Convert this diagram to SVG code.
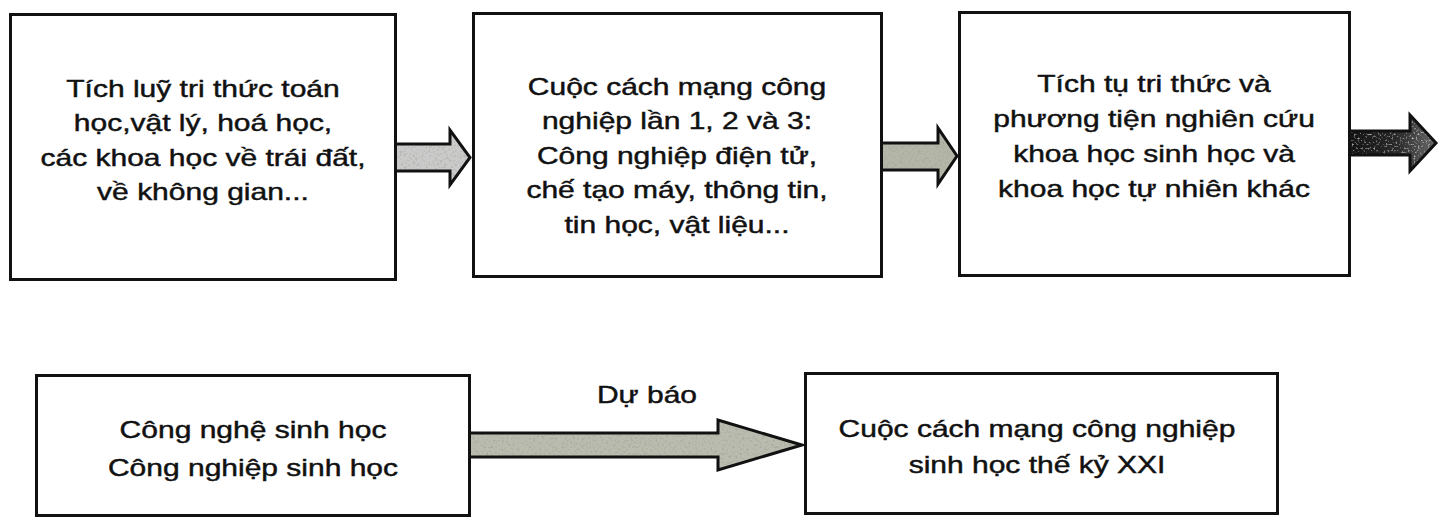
<svg xmlns="http://www.w3.org/2000/svg" width="1442" height="519" viewBox="0 0 1442 519">
  <style>
    .box { fill: #ffffff; stroke: #111111; stroke-width: 3; }
    .lbl { font-family: "Liberation Sans", Arial, sans-serif; font-size: 24px; fill: #111111; stroke: #111111; stroke-width: 0.45; text-anchor: middle; }
    .arrow-outline { fill: none; stroke: #111111; stroke-width: 3; stroke-linejoin: miter; }
  </style>
  <defs>
    <!-- dark grain laid over the light block arrows -->
    <filter id="grainDark" x="0" y="0" width="100%" height="100%">
      <feTurbulence type="fractalNoise" baseFrequency="0.45" numOctaves="2" seed="7" result="noise"/>
      <feColorMatrix in="noise" type="matrix" values="0 0 0 0 0.35  0 0 0 0 0.36  0 0 0 0 0.3  4 0 0 0 -2.1" result="specks"/>
      <feComposite in="specks" in2="SourceGraphic" operator="in"/>
    </filter>
    <!-- light grain laid over the dark block arrow -->
    <filter id="grainLight" x="0" y="0" width="100%" height="100%">
      <feTurbulence type="fractalNoise" baseFrequency="0.5" numOctaves="2" seed="3" result="noise"/>
      <feColorMatrix in="noise" type="matrix" values="0 0 0 0 0.8  0 0 0 0 0.8  0 0 0 0 0.78  4 0 0 0 -2.2" result="specks"/>
      <feComposite in="specks" in2="SourceGraphic" operator="in"/>
    </filter>
    <linearGradient id="darkFill" x1="0" y1="0" x2="1" y2="0">
      <stop offset="0" stop-color="#141414"/>
      <stop offset="0.55" stop-color="#2a2a2a"/>
      <stop offset="1" stop-color="#6a6a6a"/>
    </linearGradient>
  </defs>

  <!-- block arrows between the boxes -->
  <g id="connectors">
    <g id="arrow-1-2">
      <polygon points="396,144 450,144 450,130 470,157.5 450,185 450,171 396,171" fill="#cacaca"/>
      <polygon points="396,144 450,144 450,130 470,157.5 450,185 450,171 396,171" fill="#000" filter="url(#grainDark)" opacity="0.6"/>
      <polyline class="arrow-outline" points="396,144 450,144 450,130 470,157.5 450,185 450,171 396,171"/>
    </g>
    <g id="arrow-2-3">
      <polygon points="882,143 938,143 938,128 957,156 938,184 938,170 882,170" fill="#b4b6a8"/>
      <polygon points="882,143 938,143 938,128 957,156 938,184 938,170 882,170" fill="#000" filter="url(#grainDark)" opacity="0.7"/>
      <polyline class="arrow-outline" points="882,143 938,143 938,128 957,156 938,184 938,170 882,170"/>
    </g>
    <g id="arrow-3-out">
      <polygon points="1350,131 1410,131 1410,115 1436,143 1410,171 1410,155 1350,155" fill="url(#darkFill)"/>
      <polygon points="1350,131 1410,131 1410,115 1436,143 1410,171 1410,155 1350,155" fill="#000" filter="url(#grainLight)" opacity="0.7"/>
      <polyline class="arrow-outline" points="1350,131 1410,131 1410,115 1436,143 1410,171 1410,155 1350,155"/>
    </g>
    <g id="arrow-forecast">
      <polygon points="471,433 718,433 718,420 802,445 718,470 718,457 471,457" fill="#b9bcae"/>
      <polygon points="471,433 718,433 718,420 802,445 718,470 718,457 471,457" fill="#000" filter="url(#grainDark)" opacity="0.7"/>
      <polyline class="arrow-outline" points="471,433 718,433 718,420 802,445 718,470 718,457 471,457"/>
      <text class="lbl" transform="translate(647 0) scale(1.25 1)" x="0" y="403">Dự báo</text>
    </g>
  </g>

  <g id="node-math-physics">
    <rect class="box" x="10.5" y="14.5" width="385" height="265"/>
    <g transform="translate(203 0) scale(1.25 1)">
      <text class="lbl" x="0" y="97">Tích luỹ tri thức toán</text>
      <text class="lbl" x="0" y="131.5">học,vật lý, hoá học,</text>
      <text class="lbl" x="0" y="166">các khoa học về trái đất,</text>
      <text class="lbl" x="0" y="200.5">về không gian...</text>
    </g>
  </g>

  <g id="node-industrial-revolutions">
    <rect class="box" x="473.5" y="13.5" width="408" height="263"/>
    <g transform="translate(677 0) scale(1.25 1)">
      <text class="lbl" x="0" y="95">Cuộc cách mạng công</text>
      <text class="lbl" x="0" y="129.5">nghiệp lần 1, 2 và 3:</text>
      <text class="lbl" x="0" y="164">Công nghiệp điện tử,</text>
      <text class="lbl" x="0" y="198.5">chế tạo máy, thông tin,</text>
      <text class="lbl" x="0" y="233">tin học, vật liệu...</text>
    </g>
  </g>

  <g id="node-bio-knowledge">
    <rect class="box" x="959.5" y="12.5" width="390" height="263"/>
    <g transform="translate(1154 0) scale(1.25 1)">
      <text class="lbl" x="0" y="92">Tích tụ tri thức và</text>
      <text class="lbl" x="0" y="127">phương tiện nghiên cứu</text>
      <text class="lbl" x="0" y="162">khoa học sinh học và</text>
      <text class="lbl" x="0" y="197">khoa học tự nhiên khác</text>
    </g>
  </g>

  <g id="node-biotech">
    <rect class="box" x="36.5" y="375.5" width="433" height="140"/>
    <g transform="translate(253 0) scale(1.25 1)">
      <text class="lbl" x="0" y="438">Công nghệ sinh học</text>
      <text class="lbl" x="0" y="476">Công nghiệp sinh học</text>
    </g>
  </g>

  <g id="node-bio-revolution">
    <rect class="box" x="805.5" y="373.5" width="472" height="140"/>
    <g transform="translate(1037 0) scale(1.25 1)">
      <text class="lbl" x="0" y="437">Cuộc cách mạng công nghiệp</text>
      <text class="lbl" x="0" y="473">sinh học thế kỷ XXI</text>
    </g>
  </g>
</svg>
